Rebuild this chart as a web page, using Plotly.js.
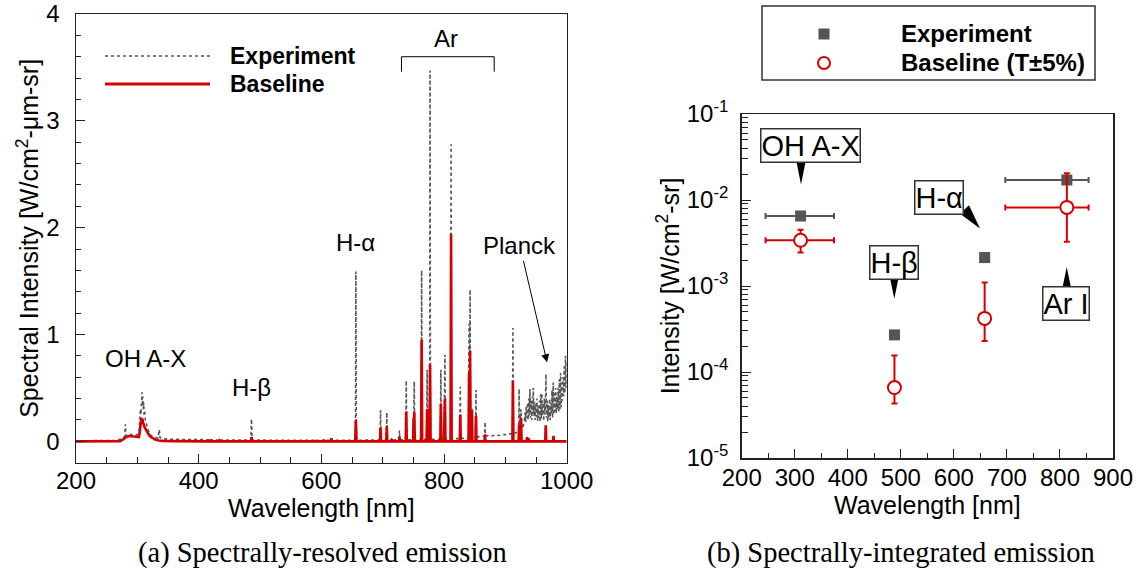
<!DOCTYPE html>
<html><head><meta charset="utf-8">
<script src="https://cdn.plot.ly/plotly-3.0.1.min.js"></script>
<style>html,body{margin:0;padding:0;background:#fff}#chart{width:1143px;height:579px}</style>
</head><body><div id="chart"></div>
<script>
// ---------- (a) spectrally-resolved emission ----------
const expWl = [200,240,265,272,277,279.5,280.5,281.5,284,288,292,296,300,302.5,304,305,305.8,306.5,307.2,307.8,308.4,309,309.6,310.3,311,312,313,314.5,316,318,320,323,326,330,334,335.8,337,340,350,370,400,416.5,417.5,418.5,433,434,435,460,485,486.1,487.2,520,560,588.5,589.3,590,603.5,604.3,605,615.5,616.3,617,650,655.6,656.3,657,680,695.8,696.5,697.2,706,706.7,707.4,714,714.7,715.4,726.6,727.3,728,737.7,738.4,739.1,749.7,750.4,750.9,751.5,752.2,762.8,763.5,764.2,771.7,772.4,773.1,776.5,777.2,777.9,786,794.1,794.8,795.5,799.9,800.6,801.05,801.5,802.2,810.8,811.5,812.2,819,825.8,826.5,827.2,834,840.1,840.8,841.6,842.5,843.2,851.4,852.1,852.8,860,866.1,866.8,867.5,872,878,884,890,896,902,907,911.6,912.3,913,917,921.7,922.4,923.1,925.4,927,929,931,932,933,934,935,936,937,938,939,940,941,942,943,944,945,945.5,946.5,947.5,948.5,949.5,950.5,951.5,952.5,953.5,954.5,955.5,956.5,957.5,958.5,959.5,960.5,961.5,962.5,963.5,964.5,965.5,966.2,967,968,969,970,971,972,973,974,975,976,977,978,979,980,981,982,983,984,985,986,987,988,989,990,991,992,993,994,995,996,997,998,999,1000];
const expVal = [0.005,0.006,0.008,0.02,0.03,0.05,0.16,0.05,0.06,0.065,0.06,0.065,0.06,0.07,0.2,0.3,0.25,0.4,0.3,0.46,0.33,0.42,0.3,0.36,0.25,0.28,0.2,0.18,0.13,0.1,0.07,0.05,0.04,0.035,0.03,0.11,0.035,0.025,0.02,0.018,0.015,0.015,0.03,0.015,0.012,0.025,0.012,0.012,0.012,0.21,0.012,0.01,0.01,0.01,0.02,0.01,0.01,0.02,0.01,0.01,0.025,0.01,0.01,0.01,1.59,0.01,0.012,0.012,0.29,0.012,0.012,0.27,0.012,0.012,0.03,0.012,0.015,0.1,0.015,0.015,0.57,0.015,0.015,0.45,0.03,0.56,0.015,0.015,1.6,0.02,0.02,0.67,0.02,0.02,3.47,0.02,0.02,0.02,0.67,0.02,0.02,0.55,0.1,0.81,0.02,0.02,2.78,0.025,0.025,0.025,0.51,0.025,0.03,0.03,1.1,0.1,1.42,0.03,0.035,0.48,0.04,0.045,0.05,0.18,0.05,0.055,0.05,0.06,0.055,0.065,0.06,0.07,0.07,1.06,0.07,0.08,0.09,0.49,0.1,0.3,0.12,0.14,0.2,0.27,0.18,0.32,0.22,0.36,0.2,0.4,0.24,0.49,0.22,0.38,0.2,0.42,0.26,0.5,0.24,0.37,0.2,0.35,0.23,0.4,0.19,0.33,0.22,0.38,0.18,0.44,0.21,0.45,0.24,0.36,0.19,0.4,0.25,0.42,0.63,0.22,0.38,0.18,0.34,0.22,0.4,0.2,0.36,0.26,0.48,0.22,0.55,0.25,0.45,0.28,0.5,0.26,0.42,0.3,0.5,0.28,0.58,0.3,0.64,0.32,0.55,0.38,0.6,0.42,0.7,0.45,0.8,0.5,0.75];

const baseWl = [200,260,272,276,280,284,288,292,296,300,302.5,304,305.5,306.5,307.5,308.5,309.5,310.5,312,314,316,319,322,326,330,335,342,360,400,416.5,417.5,418.5,433,434,435,485,486.1,487.2,520,588.5,589.3,590,603.5,604.3,605,615.5,616.3,617,650,655.2,656.3,657.4,695.6,696.5,697.4,705.8,706.7,707.6,713.9,714.7,715.5,726.4,727.3,728.2,737.5,738.4,739.3,749.6,750.4,751.0,751.5,752.4,762.6,763.5,764.4,771.6,772.4,773.2,776.3,777.2,778.1,785,794.0,794.8,795.6,799.8,800.6,801.1,801.5,802.3,810.6,811.5,812.4,818,825.7,826.5,827.3,840.0,840.8,841.6,842.5,843.4,844.7,845.5,846.3,851.3,852.1,852.9,866.0,866.8,867.6,890,911.5,912.3,913.1,920,921.6,922.4,923.3,924.6,925.4,926.4,927.3,931,934.5,935.3,936.1,937.4,938.2,939,965,965.8,966.6,977.7,978.5,979.3,1000];
const baseVal = [0,0,0.002,0.015,0.035,0.048,0.05,0.047,0.05,0.045,0.04,0.09,0.18,0.22,0.2,0.21,0.17,0.16,0.13,0.11,0.085,0.06,0.04,0.025,0.015,0.008,0.004,0.002,0.001,0,0.01,0,0,0.008,0,0,0.04,0,0,0,0.008,0,0,0.01,0,0,0.03,0,0,0,0.2,0,0,0.13,0,0,0.14,0,0,0.02,0,0,0.045,0,0,0.28,0,0,0.22,0.02,0.28,0,0,0.95,0,0,0.3,0,0,0.72,0,0,0,0.35,0,0,0.3,0.05,0.4,0,0,1.94,0,0,0,0.25,0,0,0.64,0.05,0.85,0,0,0.3,0,0,0.24,0,0,0.065,0,0,0,0.57,0,0,0,0.16,0,0,0.22,0.02,0,0,0,0.04,0,0,0.03,0,0,0.15,0,0,0.05,0,0];

// ---------- (b) spectrally-integrated emission ----------
const bands = ['OH A-X','H-β','H-α','Ar I'];
const bandWl = [311, 488, 658, 813];
const bandWlMinus = [66, 0, 0, 116];
const bandWlPlus = [63, 0, 0, 41];
const expInt = [6.5e-3, 2.7e-4, 2.14e-3, 1.71e-2];
const baseInt = [3.4e-3, 6.6e-5, 4.2e-4, 8.2e-3];
const baseIntHi = [4.5e-3, 1.56e-4, 1.1e-3, 2.04e-2];
const baseIntLo = [2.45e-3, 4.3e-5, 2.3e-4, 3.26e-3];
const logTickVals = [1e-5, 1e-4, 1e-3, 1e-2, 1e-1];
const logTickText = ['10<sup>-5</sup>', '10<sup>-4</sup>', '10<sup>-3</sup>', '10<sup>-2</sup>', '10<sup>-1</sup>'];

const W = 1143, H = 579;
const FONT = 'Liberation Sans, Arial, Helvetica, sans-serif';
const RED = '#d40000', GRAY = '#555555', AX = '#222222';
const px = v => v / W, py = v => 1 - v / H;

const traces = [
  {x: expWl, y: expVal, type: 'scatter', mode: 'lines', xaxis: 'x', yaxis: 'y', name: 'Experiment',
   line: {color: GRAY, width: 1.6, dash: 'dot'}, showlegend: false},
  {x: baseWl, y: baseVal, type: 'scatter', mode: 'lines', xaxis: 'x', yaxis: 'y', name: 'Baseline',
   line: {color: RED, width: 2.6}, showlegend: false},
  {x: bandWl, y: expInt, type: 'scatter', mode: 'markers', xaxis: 'x2', yaxis: 'y2', name: 'Experiment',
   marker: {symbol: 'square', size: 11, color: GRAY},
   error_x: {type: 'data', symmetric: false, array: bandWlPlus, arrayminus: bandWlMinus, color: GRAY, thickness: 2, width: 3},
   showlegend: false},
  {x: bandWl, y: baseInt, type: 'scatter', mode: 'markers', xaxis: 'x2', yaxis: 'y2', name: 'Baseline (T±5%)',
   marker: {symbol: 'circle', size: 13, color: '#ffffff', line: {color: RED, width: 2}},
   error_x: {type: 'data', symmetric: false, array: bandWlPlus, arrayminus: bandWlMinus, color: RED, thickness: 2, width: 3},
   error_y: {type: 'data', symmetric: false, array: baseIntHi.map((v,i)=>v-baseInt[i]), arrayminus: baseInt.map((v,i)=>v-baseIntLo[i]), color: RED, thickness: 2, width: 3},
   showlegend: false}
];

const tickFont = {family: FONT, size: 24, color: '#000'};
const titleFont = {family: FONT, size: 25, color: '#000'};
const common = {showline: true, linecolor: AX, linewidth: 1.5, mirror: true, showgrid: false, zeroline: false,
  ticks: 'inside', ticklen: 9, tickwidth: 1, tickcolor: AX, tickfont: tickFont};

const layout = {
  width: W, height: H, margin: {l: 0, r: 0, t: 0, b: 0}, paper_bgcolor: '#fff', plot_bgcolor: '#fff',
  showlegend: false, font: {family: FONT, color: '#000'},
  xaxis: Object.assign({}, common, {domain: [px(76), px(566.7)], range: [200, 1000], tick0: 200, dtick: 200,
    minor: {dtick: 50, ticks: 'inside', ticklen: 6, tickcolor: AX},
    ticklabelstandoff: -4,
    title: {text: 'Wavelength [nm]', font: titleFont, standoff: 2}, anchor: 'y'}),
  yaxis: Object.assign({}, common, {domain: [py(462.7), py(14)], range: [-0.2, 4], tick0: 0, dtick: 1,
    minor: {dtick: 0.2, tick0: 0, ticks: 'inside', ticklen: 5, tickcolor: AX},
    ticklabelstandoff: 10,
    title: {text: 'Spectral Intensity [W/cm<sup>2</sup>-μm-sr]', font: titleFont, standoff: 0}, anchor: 'x'}),
  xaxis2: Object.assign({}, common, {domain: [px(741.7), px(1113)], range: [200, 900], tick0: 200, dtick: 100,
    minor: {dtick: 50, ticks: 'inside', ticklen: 5, tickcolor: AX},
    ticklabelstandoff: -2,
    title: {text: 'Wavelength [nm]', font: titleFont, standoff: 2}, anchor: 'y2'}),
  yaxis2: Object.assign({}, common, {domain: [py(458), py(114)], type: 'log', range: [-5, -1],
    tickmode: 'array', tickvals: logTickVals, ticktext: logTickText,
    minor: {dtick: 'D1', ticks: 'inside', ticklen: 6, tickcolor: AX},
    ticklabelstandoff: 7,
    title: {text: 'Intensity [W/cm<sup>2</sup>-sr]', font: titleFont, standoff: 0}, anchor: 'x2'}),
  shapes: [],
  annotations: []
};

// left panel: legend and labels
layout.shapes.push(
  {type: 'line', xref: 'paper', yref: 'paper', x0: px(105), x1: px(210), y0: py(56), y1: py(56), line: {color: GRAY, width: 1.6, dash: 'dot'}},
  {type: 'line', xref: 'paper', yref: 'paper', x0: px(105), x1: px(210), y0: py(84), y1: py(84), line: {color: RED, width: 3}},
  {type: 'path', xref: 'x', yref: 'y', path: 'M730.6,3.46 L730.6,3.6 L881.8,3.6 L881.8,3.46', line: {color: '#000', width: 1}}
);
const legTextA = {family: FONT, size: 23, color: '#000', weight: 'bold'};
layout.annotations.push(
  {xref: 'paper', yref: 'paper', x: px(228), y: py(56), text: 'Experiment', showarrow: false, xanchor: 'left', yanchor: 'middle', font: legTextA},
  {xref: 'paper', yref: 'paper', x: px(228), y: py(84), text: 'Baseline', showarrow: false, xanchor: 'left', yanchor: 'middle', font: legTextA}
);
const lblA = {family: FONT, size: 24, color: '#000'};
layout.annotations.push(
  {xref: 'x', yref: 'y', x: 313, y: 0.78, text: 'OH A-X', showarrow: false, font: lblA},
  {xref: 'x', yref: 'y', x: 486, y: 0.5, text: 'H-β', showarrow: false, font: lblA},
  {xref: 'x', yref: 'y', x: 655, y: 1.86, text: 'H-α', showarrow: false, font: lblA},
  {xref: 'x', yref: 'y', x: 803.6, y: 3.77, text: 'Ar', showarrow: false, font: lblA},
  {xref: 'x', yref: 'y', x: 968, y: 0.74, axref: 'x', ayref: 'y', ax: 923.8, ay: 1.83, text: 'Planck', showarrow: true,
   arrowhead: 2, arrowsize: 1.6, arrowwidth: 1, arrowcolor: '#000', standoff: 0, font: lblA}
);

// right panel: legend box
layout.shapes.push(
  {type: 'rect', xref: 'paper', yref: 'paper', x0: px(762), x1: px(1095), y0: py(80), y1: py(6), line: {color: '#333', width: 1.5}, fillcolor: 'rgba(0,0,0,0)'},
  {type: 'rect', xref: 'paper', yref: 'paper', x0: px(818.5), x1: px(829.5), y0: py(39.5), y1: py(28.5), line: {width: 0}, fillcolor: GRAY},
  {type: 'circle', xref: 'paper', yref: 'paper', x0: px(818), x1: px(830), y0: py(69), y1: py(57), line: {color: RED, width: 2}, fillcolor: '#fff'}
);
const legTextB = {family: FONT, size: 24, color: '#000', weight: 'bold'};
layout.annotations.push(
  {xref: 'paper', yref: 'paper', x: px(899), y: py(34), text: 'Experiment', showarrow: false, xanchor: 'left', yanchor: 'middle', font: legTextB},
  {xref: 'paper', yref: 'paper', x: px(899), y: py(63), text: 'Baseline (T±5%)', showarrow: false, xanchor: 'left', yanchor: 'middle', font: legTextB}
);
// right panel: boxed labels (log axis -> y in log10 units)
const boxFont = {family: FONT, size: 29, color: '#000'};
const boxLbl = [['OH A-X', 329.6, -1.369], ['H-β', 487.4, -2.727], ['H-α', 572.3, -1.975], ['Ar I', 811.9, -3.198]];
boxLbl.forEach(b => layout.annotations.push({xref: 'x2', yref: 'y2', x: b[1], y: b[2], text: b[0], showarrow: false,
  xanchor: 'center', yanchor: 'middle',
  font: boxFont, bgcolor: '#fff', bordercolor: '#333', borderwidth: 1.5, borderpad: 0}));
const wedges = [
  [[796.5,162],[805.5,162],[801,184.5]],
  [[890,278],[898.5,278],[894.3,298.7]],
  [[960,213.8],[969,205.2],[980,228.6]],
  [[1062.5,287.7],[1071,287.7],[1066.7,267]]
];
wedges.forEach(w => layout.shapes.push({type: 'path', xref: 'paper', yref: 'paper',
  path: 'M' + w.map(p => px(p[0]) + ',' + py(p[1])).join(' L') + ' Z', fillcolor: '#000', line: {width: 0}}));

// captions
const capFont = {family: 'Liberation Serif, DejaVu Serif, serif', size: 28.5, color: '#000'};
layout.annotations.push(
  {xref: 'paper', yref: 'paper', x: px(322), y: py(553), text: '(a) Spectrally-resolved emission', showarrow: false, xanchor: 'center', yanchor: 'middle', font: capFont},
  {xref: 'paper', yref: 'paper', x: px(901), y: py(553), text: '(b) Spectrally-integrated emission', showarrow: false, xanchor: 'center', yanchor: 'middle', font: capFont}
);

Plotly.newPlot('chart', traces, layout, {staticPlot: true, displayModeBar: false});
</script></body></html>
